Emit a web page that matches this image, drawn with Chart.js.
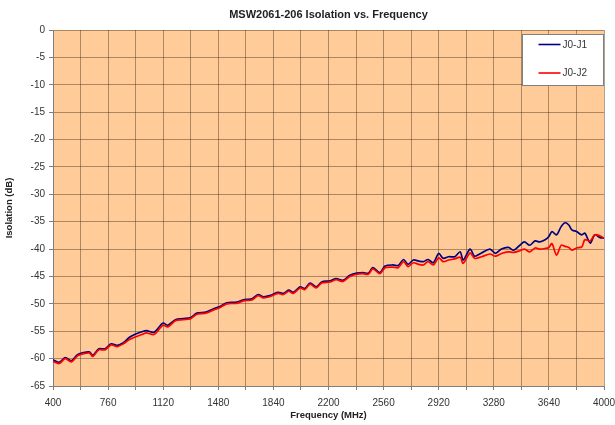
<!DOCTYPE html>
<html>
<head>
<meta charset="utf-8">
<script src="https://cdn.jsdelivr.net/npm/chart.js@4.4.1/dist/chart.umd.min.js"></script>
<style>
  html, body { margin: 0; padding: 0; background: #ffffff; }
  #wrap { width: 615px; height: 425px; }
</style>
</head>
<body>
<div id="wrap"><canvas id="c" width="615" height="425"></canvas></div>
<script>
const chartTitle = "MSW2061-206 Isolation vs. Frequency";
const xTitle = "Frequency (MHz)";
const yTitle = "Isolation (dB)";
const seriesNames = ["J0-J1", "J0-J2"];
const xTickLabels = [400, 760, 1120, 1480, 1840, 2200, 2560, 2920, 3280, 3640, 4000];
const yTickLabels = [0, -5, -10, -15, -20, -25, -30, -35, -40, -45, -50, -55, -60, -65];

const freq = [400, 440, 480, 520, 560, 600, 640, 660, 700, 740,
  780, 820, 860, 900, 940, 980, 1010, 1060, 1100, 1120,
  1150, 1200, 1250, 1300, 1340, 1400, 1450, 1490, 1535, 1600,
  1650, 1700, 1740, 1775, 1815, 1870, 1905, 1940, 1970, 2015,
  2045, 2080, 2120, 2155, 2210, 2250, 2295, 2340, 2385, 2425,
  2460, 2490, 2535, 2570, 2620, 2655, 2690, 2720, 2755, 2790,
  2820, 2850, 2885, 2920, 2950, 2985, 3025, 3060, 3080, 3125,
  3155, 3200, 3255, 3290, 3330, 3375, 3410, 3450, 3480, 3515,
  3550, 3580, 3615, 3640, 3660, 3690, 3720, 3745, 3770, 3790,
  3820, 3855, 3875, 3910, 3940, 3975, 4000];

const j0j1 = [-60.2, -60.7, -59.8, -60.4, -59.3, -58.9, -58.8, -59.4, -58.2, -58.2,
  -57.3, -57.6, -57.1, -56.1, -55.5, -55.1, -54.9, -55.2, -54.0, -53.5,
  -53.9, -52.9, -52.7, -52.5, -51.7, -51.5, -50.9, -50.5, -49.8, -49.7,
  -49.2, -49.1, -48.3, -48.7, -48.5, -47.9, -48.1, -47.5, -47.9, -46.9,
  -47.2, -46.2, -46.9, -46.0, -45.8, -45.4, -45.7, -44.8, -44.4, -44.3,
  -44.4, -43.4, -44.3, -43.1, -42.9, -43.0, -41.9, -42.8, -42.0, -42.2,
  -42.3, -41.9, -42.5, -40.8, -41.7, -41.4, -41.4, -40.5, -42.0, -40.0,
  -41.3, -40.7, -40.0, -40.8, -40.0, -39.7, -40.2, -39.3, -38.7, -39.3,
  -38.5, -38.7, -38.3, -37.7, -36.8, -37.4, -35.9, -35.2, -35.6, -36.5,
  -36.8, -37.4, -37.1, -38.9, -37.4, -37.9, -38.0];

const j0j2 = [-60.5, -60.9, -60.0, -60.6, -59.5, -59.1, -59.0, -59.6, -58.4, -58.4,
  -57.5, -57.8, -57.3, -56.5, -56.0, -55.6, -55.3, -55.6, -54.4, -53.9,
  -54.2, -53.1, -52.9, -52.7, -51.9, -51.7, -51.1, -50.7, -50.0, -49.9,
  -49.4, -49.3, -48.5, -48.9, -48.7, -48.1, -48.3, -47.7, -48.1, -47.1,
  -47.4, -46.4, -47.1, -46.2, -46.0, -45.6, -45.9, -45.0, -44.6, -44.5,
  -44.6, -43.6, -44.5, -43.4, -43.3, -43.4, -42.3, -43.2, -42.5, -42.8,
  -42.9, -42.3, -42.9, -41.6, -42.3, -42.0, -41.8, -41.5, -42.6, -40.7,
  -41.7, -41.4, -40.9, -41.3, -40.8, -40.5, -40.6, -40.3, -40.0, -40.5,
  -39.8, -40.0, -39.9, -39.7, -39.0, -41.1, -39.3, -39.5, -39.7, -40.2,
  -39.8, -39.6, -38.3, -38.5, -37.4, -37.6, -38.0];

const FONT = "'Liberation Sans', Arial, sans-serif";

const toPoints = (xs, ys) => xs.map((x, i) => ({ x: x, y: ys[i] }));

const bgPlugin = {
  id: 'bgPlugin',
  beforeDraw(chart) {
    const { ctx, chartArea: a } = chart;
    ctx.save();
    ctx.fillStyle = '#ffffff';
    ctx.fillRect(0, 0, chart.width, chart.height);
    ctx.fillStyle = '#FFCC99';
    ctx.fillRect(a.left, a.top, a.right - a.left, a.bottom - a.top);
    ctx.restore();
  }
};

const legendBoxPlugin = {
  id: 'legendBoxPlugin',
  afterDatasetsDraw(chart) {
    const { ctx, chartArea: a } = chart;
    const w = 81, h = 51;
    const x0 = Math.round(a.right - w - 1) + 0.5, y0 = Math.round(a.top + 4) + 0.5;
    ctx.save();
    ctx.fillStyle = '#ffffff';
    ctx.fillRect(x0, y0, w, h);
    ctx.strokeStyle = '#7f7f7f';
    ctx.lineWidth = 1;
    ctx.strokeRect(x0, y0, w, h);
    ctx.font = '10px ' + FONT;
    ctx.textBaseline = 'middle';
    ctx.textAlign = 'left';
    chart.data.datasets.forEach((ds, i) => {
      const yy = y0 + 10 + i * 28.5;
      ctx.strokeStyle = ds.borderColor;
      ctx.lineWidth = 1.6;
      ctx.beginPath();
      ctx.moveTo(x0 + 16, yy);
      ctx.lineTo(x0 + 38, yy);
      ctx.stroke();
      ctx.fillStyle = '#333333';
      ctx.fillText(ds.label, x0 + 40, yy + 0.5);
    });
    ctx.restore();
  }
};

new Chart(document.getElementById('c'), {
  type: 'line',
  data: {
    datasets: [
      { label: seriesNames[0], data: toPoints(freq, j0j1), borderColor: '#000080', borderWidth: 1.7,
        pointRadius: 0, tension: 0.3, fill: false, order: 1 },
      { label: seriesNames[1], data: toPoints(freq, j0j2), borderColor: '#FF0000', borderWidth: 1.7,
        pointRadius: 0, tension: 0.3, fill: false, order: 0 }
    ]
  },
  options: {
    responsive: false,
    animation: false,
    events: [],
    layout: { padding: { left: 0, right: 11, top: 0, bottom: 0 } },
    plugins: {
      legend: { display: false },
      tooltip: { enabled: false },
      title: {
        display: true,
        text: chartTitle,
        fullSize: false,
        color: '#222222',
        font: { family: FONT, size: 11, weight: 'bold', lineHeight: 1.2 },
        padding: { top: 8, bottom: 8.8 }
      }
    },
    scales: {
      x: {
        type: 'linear',
        min: 400,
        max: 4000,
        afterFit(s) { s.height = 39; s.paddingLeft = 0; s.paddingRight = 0; },
        afterBuildTicks(s) {
          const t = [];
          for (let v = 400; v <= 4000; v += 180) t.push({ value: v });
          s.ticks = t;
        },
        ticks: {
          autoSkip: false,
          maxRotation: 0,
          padding: 7,
          color: '#333333',
          font: { family: FONT, size: 10 },
          callback: (v) => xTickLabels.includes(v) ? String(v) : ''
        },
        grid: { color: 'rgba(70,50,30,0.45)', lineWidth: 1, tickLength: 4, tickColor: '#7f7f7f' },
        border: { color: '#7f7f7f', width: 1 },
        title: {
          display: true, text: xTitle, color: '#222222',
          font: { family: FONT, size: 9.5, weight: 'bold', lineHeight: 1.2 },
          padding: { top: 0, bottom: 4 }
        }
      },
      y: {
        type: 'linear',
        min: -65,
        max: 0,
        afterFit(s) { s.width = 53; s.paddingTop = 0; s.paddingBottom = 0; },
        afterBuildTicks(s) { s.ticks = yTickLabels.map(v => ({ value: v })); },
        ticks: {
          autoSkip: false,
          padding: 4,
          color: '#333333',
          font: { family: FONT, size: 10 },
          callback: (v) => String(v)
        },
        grid: { color: 'rgba(70,50,30,0.45)', lineWidth: 1, tickLength: 4, tickColor: '#7f7f7f' },
        border: { color: '#7f7f7f', width: 1 },
        title: {
          display: true, text: yTitle, color: '#222222',
          font: { family: FONT, size: 9.5, weight: 'bold', lineHeight: 1.2 },
          padding: { top: 4, bottom: 0 }
        }
      }
    }
  },
  plugins: [bgPlugin, legendBoxPlugin]
});
</script>
</body>
</html>
